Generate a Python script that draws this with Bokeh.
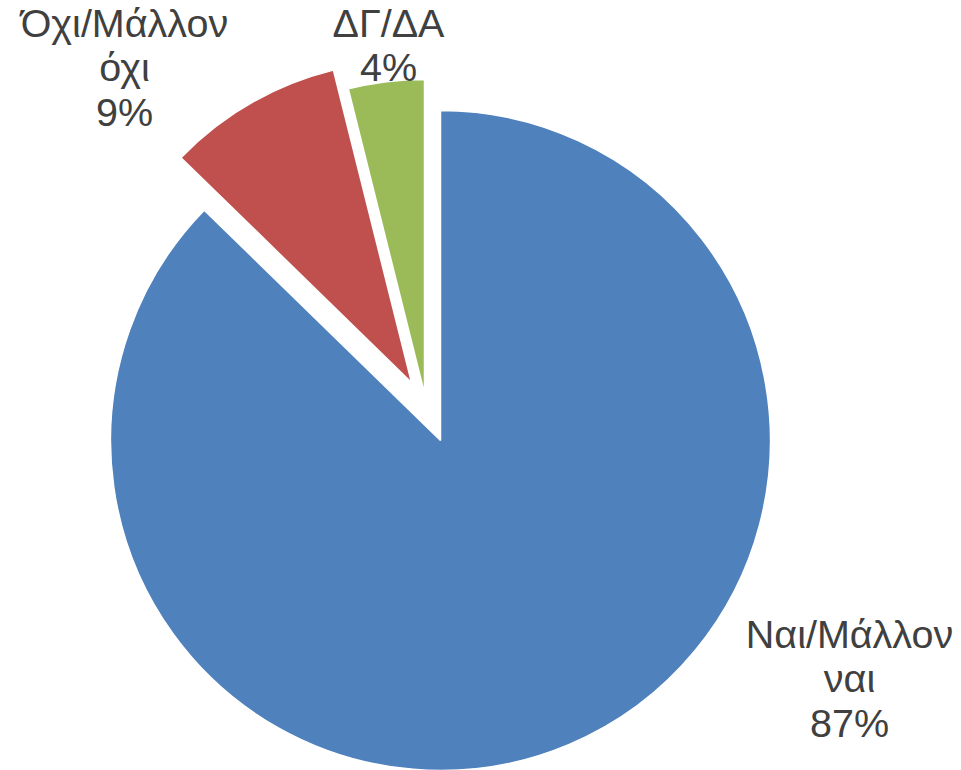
from bokeh.plotting import figure
from bokeh.models import ColumnDataSource, Range1d
from bokeh.embed import file_html
from bokeh.resources import INLINE
from bokeh.core.properties import value
import math

# ---- data ----
categories = ["Ναι/Μάλλον ναι", "Όχι/Μάλλον όχι", "ΔΓ/ΔΑ"]
label_lines = [["Ναι/Μάλλον", "ναι"], ["Όχι/Μάλλον", "όχι"], ["ΔΓ/ΔΑ"]]
shares = [87.3, 8.8, 3.9]

# ---- style ----
colors = ["#4F81BD", "#C0504D", "#9BBB59"]
W, H = 961, 770
CX, CY = 440, 330          # pie centre (pixels, y up)
radii = [330, 322, 314]    # per-slice radius (exploded slices drawn smaller)
explode = [(0, 0), (-29, 58), (-16, 47)]   # per-slice offset in pixels
label_anchor = [(409, -193), (-316, 418), (-52, 418)]  # rel. to centre: (centre x, first baseline)
LINE_H = 44.5
FONT = "Liberation Sans"
FSIZE = "39.5px"
TEXT_COLOR = "#404040"

total = sum(shares)
angles = [s / total * 2 * math.pi for s in shares]
# green starts at 12 o'clock going anticlockwise, then red, then blue wraps back to top
a = math.pi / 2
span = {}
for i in [2, 1, 0]:
    span[i] = (a, a + angles[i])
    a += angles[i]
starts = [span[i][0] for i in range(3)]
ends = [span[i][1] for i in range(3)]

src = ColumnDataSource(dict(
    x=[CX + explode[i][0] for i in range(3)],
    y=[CY + explode[i][1] for i in range(3)],
    r=radii,
    start=starts,
    end=ends,
    color=colors,
))

p = figure(width=W, height=H, x_range=Range1d(0, W), y_range=Range1d(0, H),
           output_backend="svg", toolbar_location=None, min_border=0,
           x_axis_type=None, y_axis_type=None)
p.grid.visible = False
p.outline_line_color = None
p.background_fill_color = "white"
p.border_fill_color = "white"

p.wedge(x="x", y="y", radius="r", start_angle="start", end_angle="end",
        direction="anticlock", fill_color="color", line_color="white",
        line_width=1.5, source=src)

# labels
tx, ty, tt = [], [], []
for i in range(3):
    lines = label_lines[i] + [f"{round(shares[i])}%"]
    ax, ay = label_anchor[i]
    for k, ln in enumerate(lines):
        tx.append(CX + ax)
        ty.append(CY + ay - k * LINE_H)
        tt.append(ln)

p.text(x=tx, y=ty, text=tt, text_align="center", text_baseline="alphabetic",
       text_font=value(FONT), text_font_size=FSIZE, text_color=TEXT_COLOR)

open("out.html", "w").write(file_html(p, INLINE))
